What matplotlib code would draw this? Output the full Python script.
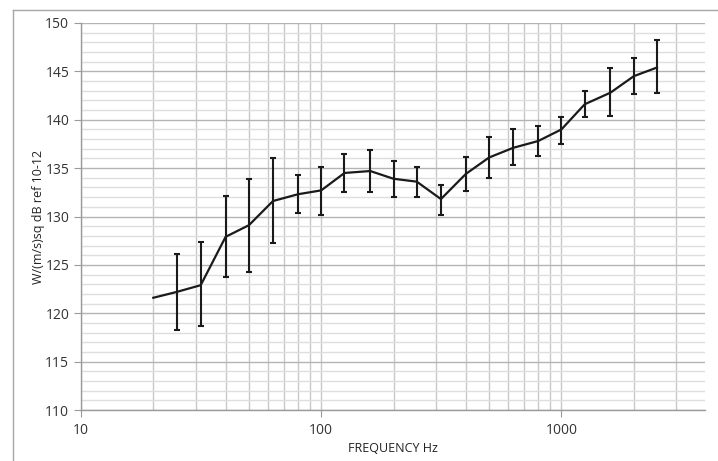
import numpy as np
import matplotlib
matplotlib.use('Agg')
import matplotlib.pyplot as plt
from matplotlib.lines import Line2D
from matplotlib.ticker import FixedLocator, NullFormatter

freq = [20, 25, 31.5, 40, 50, 63, 80, 100, 125, 160, 200, 250, 315,
        400, 500, 630, 800, 1000, 1250, 1600, 2000, 2500]
level = [121.6, 122.2, 122.9, 127.9, 129.1, 131.6, 132.3, 132.7, 134.5, 134.7, 133.9,
         133.6, 131.8, 134.4, 136.1, 137.1, 137.8, 139.0, 141.6, 142.8, 144.5, 145.4]
err_hi = [np.nan, 126.1, 127.4, 132.1, 133.9, 136.0, 134.3, 135.1, 136.5, 136.9, 135.7,
          135.1, 133.3, 136.2, 138.2, 139.0, 139.4, 140.3, 143.0, 145.3, 146.4, 148.2]
err_lo = [np.nan, 118.3, 118.7, 123.7, 124.3, 127.3, 130.4, 130.2, 132.5, 132.5, 132.0,
          132.0, 130.2, 132.6, 134.0, 135.3, 136.3, 137.5, 140.3, 140.4, 142.7, 142.8]

W, H = 718, 461
fig = plt.figure(figsize=(W / 100, H / 100), dpi=100)
plt.rcParams['font.family'] = ['Open Sans', 'DejaVu Sans']

# outer chart frame (only top and left visible)
fig.add_artist(Line2D([13 / W, 13 / W], [0, 1 - 10 / H], transform=fig.transFigure,
                      color='#a6a6a6', lw=1))
fig.add_artist(Line2D([13 / W, 1], [1 - 10 / H, 1 - 10 / H], transform=fig.transFigure,
                      color='#a6a6a6', lw=1))

ax = fig.add_axes([81 / W, (H - 410) / H, (705 - 81) / W, (410 - 23) / H])

f = np.array(freq)
y = np.array(level)
hi = np.array(err_hi)
lo = np.array(err_lo)
ax.plot(f, y, color='#1a1a1a', lw=1.6, zorder=3)
m = ~np.isnan(hi)
ax.errorbar(f[m], y[m], yerr=[y[m] - lo[m], hi[m] - y[m]], fmt='none',
            ecolor='#1a1a1a', elinewidth=1.5, capsize=2.3, capthick=1.5, zorder=3)

ax.set_xscale('log')
ax.set_xlim(10, 3960)
ax.set_ylim(110, 150)

ax.xaxis.set_major_locator(FixedLocator([10, 100, 1000]))
ax.set_xticklabels(['10', '100', '1000'])
minor_x = [k * d for d in (10, 100, 1000) for k in range(2, 10) if k * d < 3960]
ax.xaxis.set_minor_locator(FixedLocator(minor_x))
ax.xaxis.set_minor_formatter(NullFormatter())
ax.set_yticks(np.arange(110, 151, 5))
ax.set_yticks(np.arange(110, 151, 1), minor=True)

ax.grid(True, axis='x', which='both', color='#c8c8c8', lw=1)
ax.grid(True, axis='y', which='major', color='#b4b4b4', lw=1)
ax.grid(True, axis='y', which='minor', color='#dedede', lw=1)
ax.set_axisbelow(True)

for s in ('top', 'right'):
    ax.spines[s].set_visible(False)
for s in ('left', 'bottom'):
    ax.spines[s].set_color('#9a9a9a')
    ax.spines[s].set_linewidth(1)

ax.tick_params(axis='both', which='major', length=5, color='#9a9a9a',
               labelsize=10, labelcolor='#333333')
ax.tick_params(axis='both', which='minor', length=0)
ax.tick_params(axis='x', which='major', pad=4)

ax.set_xlabel('FREQUENCY Hz', fontsize=9, color='#222222', labelpad=3)
ax.set_ylabel('W/(m/s)sq dB ref 10-12', fontsize=9, color='#222222', labelpad=0)

fig.savefig('out.png', dpi=100)
